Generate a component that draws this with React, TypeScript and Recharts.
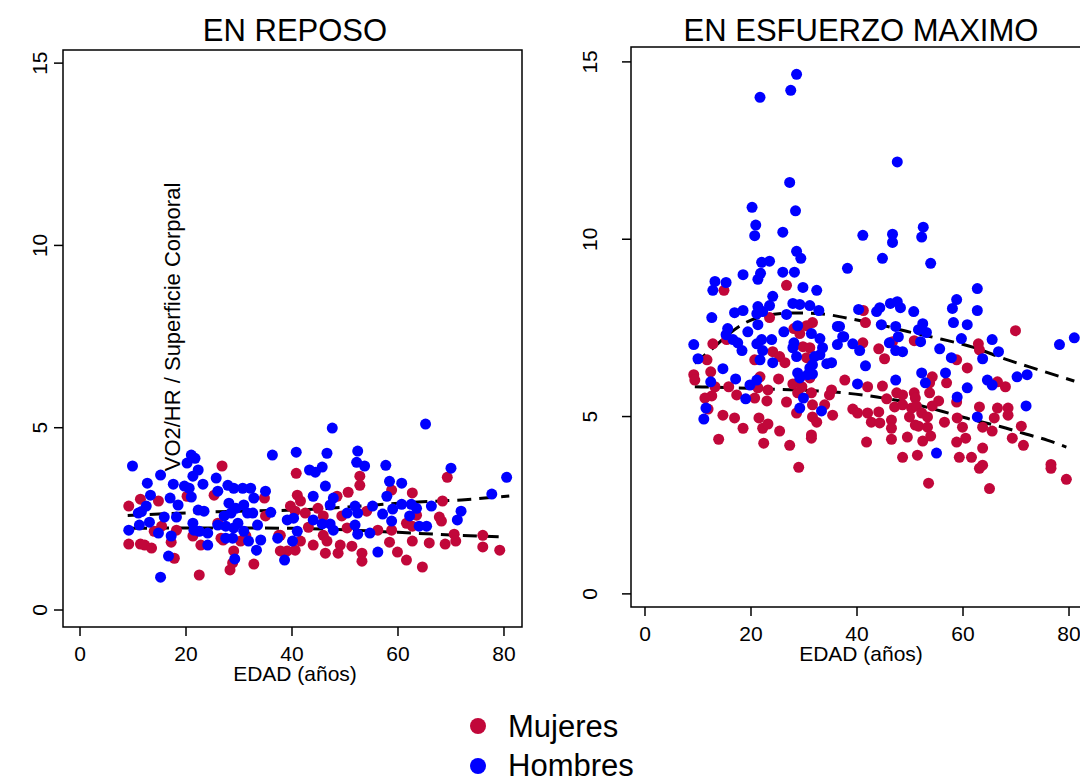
import { ComposedChart, Scatter, Line, XAxis, YAxis, ReferenceArea } from "recharts";

type Pt = [number, number];

const FONT = '"Liberation Sans", Arial, Helvetica, sans-serif';
const RED = "#C1073A";
const BLUE = "#0000FF";

const edadTicks = [0, 20, 40, 60, 80];
const valorTicks = [0, 5, 10, 15];

// EN REPOSO
const reposoHombres: Pt[] = [
  [9.9, 3.95], [21, 4.25], [21.7, 4.16], [20.2, 4.03], [15.2, 3.7], [22.3, 3.84], [21.3, 3.67], [12.7, 3.48],
  [17.6, 3.45], [25.7, 3.62], [23.2, 3.45], [19.7, 3.4], [20.6, 3.34], [13.3, 3.15], [21, 3.1], [17, 3.07],
  [18.5, 2.88], [12.5, 2.85], [11.6, 2.7], [11, 2.66], [22.3, 2.74], [23.4, 2.71], [15.9, 2.55], [18.2, 2.55],
  [13.1, 2.41], [11.2, 2.33], [9.2, 2.19], [14.8, 2.11], [17.2, 2.03], [21.3, 2.38], [21.5, 2.19], [22.5, 2.16],
  [24.1, 2.11], [24.1, 1.78], [16.7, 1.48], [15.2, 0.9], [26, 3.26], [27.9, 3.42], [29, 3.34], [30.7, 3.34],
  [32.2, 3.34], [35, 3.26], [32.8, 3.07], [28.1, 2.93], [29.4, 2.79], [30.9, 2.88], [31.6, 2.66], [32.6, 2.66],
  [28.5, 2.66], [27.2, 2.58], [26, 2.33], [27.5, 2.3], [29, 2.25], [29.8, 2.38], [27.5, 1.97], [28.8, 1.97],
  [30.9, 2.16], [31.8, 1.89], [33.5, 2.33], [34.1, 1.92], [33.3, 1.64], [29.2, 1.4], [36, 2.68], [36.3, 4.25],
  [40.8, 4.33], [39.1, 2.47], [40.3, 2.52], [37.3, 1.97], [40.1, 1.89], [38.6, 1.37], [41, 2.16],
  [47.6, 4.99], [65.2, 5.1], [46.6, 4.3], [52.4, 4.36], [52.2, 4.05], [53.7, 3.95], [57.7, 3.97], [45.7, 3.92],
  [43.3, 3.84], [44.4, 3.78], [70, 3.89], [58.4, 3.53], [60.7, 3.48], [46.3, 3.4], [44, 3.12], [47.8, 3.07],
  [57.9, 3.12], [80.5, 3.64], [77.7, 3.18], [66.3, 2.85], [71.9, 2.71], [71.2, 2.47], [47.2, 2.88], [55.2, 2.85],
  [59, 2.77], [60.7, 2.9], [62.5, 2.9], [63.5, 2.79], [51.9, 2.85], [50.4, 2.66], [52.4, 2.66], [57.1, 2.63],
  [62.2, 2.58], [58.8, 2.44], [44, 2.47], [45.7, 2.36], [47.2, 2.36], [47.8, 2.19], [51.9, 2.33], [52.4, 2.08],
  [54.7, 2.11], [64, 2.3], [65.4, 2.3], [56.2, 1.59],
];

const reposoMujeres: Pt[] = [
  [26.8, 3.95], [9.2, 2.85], [11.4, 3.04], [14.8, 2.99], [9.2, 1.81], [11.4, 1.81], [12.2, 1.78], [13.5, 1.7],
  [14, 2.16], [17.2, 1.86], [17.8, 1.42], [22.5, 0.96], [21.3, 2.03], [22.8, 1.78], [18.2, 2.19], [15.4, 2.3],
  [20.2, 3.12], [25.3, 3.15], [26, 2.38], [27, 1.92], [28.3, 1.1], [28.8, 1.29], [29, 1.62], [30.3, 1.89],
  [31.3, 2.03], [32.8, 1.26], [34.8, 3.07], [35, 2.58], [40.8, 3.75], [41, 3.15], [39.1, 1.62], [40.6, 1.64],
  [37.5, 2.05], [26.6, 1.97],
  [69.3, 3.64], [52.8, 3.67], [52.8, 3.42], [58.8, 3.29], [50.6, 3.23], [62.7, 3.21], [41.6, 2.99], [48.5, 3.12],
  [68.4, 2.99], [39.7, 2.85], [40.6, 2.71], [42.5, 2.66], [44.9, 2.79], [49.4, 2.58], [54.1, 2.71], [63.5, 2.6],
  [67.8, 2.55], [68.2, 2.44], [43.1, 2.27], [45.9, 2.58], [50.4, 2.25], [56.2, 2.19], [58.8, 2.19], [61.6, 2.38],
  [62.7, 2.3], [70.6, 2.08], [76, 2.05], [45.9, 2.05], [37.8, 2.05], [41.6, 1.89], [44, 1.78], [46.6, 1.89],
  [49.1, 1.78], [51.3, 1.75], [46.3, 1.56], [48.7, 1.56], [53.2, 1.56], [53.2, 1.34], [58.4, 1.86], [59.9, 1.59],
  [61.6, 1.37], [62.7, 1.89], [65.9, 1.84], [68.9, 1.81], [70.9, 1.89], [76, 1.73], [79.2, 1.64], [64.6, 1.18],
  [37.8, 1.62],
];

const reposoAjusteHombres: Pt[] = [
  [9, 2.59], [16, 2.64], [25, 2.69], [33, 2.72], [40, 2.74], [50, 2.82], [62, 2.95], [72, 3.02], [81, 3.13],
];
const reposoAjusteMujeres: Pt[] = [
  [10, 2.24], [20, 2.25], [30, 2.25], [40, 2.24], [50, 2.2], [60, 2.13], [70, 2.06], [79, 2.01],
];

// EN ESFUERZO MAXIMO
const maximoHombres: Pt[] = [
  [28.6, 14.65], [27.5, 14.2], [21.7, 14.0], [27.3, 11.6], [20.2, 10.9], [28.4, 10.8], [20.9, 10.4], [20.7, 10.1],
  [26, 10.2], [28.6, 9.66], [29.4, 9.46], [22, 9.35], [23.5, 9.38], [18.5, 9.0], [21.8, 9.04], [21.3, 8.87],
  [26, 9.07], [28.2, 9.07], [13.2, 8.81], [15.3, 8.78], [12.8, 8.56], [29.8, 8.64], [32.4, 8.56], [24.1, 8.39],
  [38.2, 9.18],
  [47.6, 12.18], [52.5, 10.34], [41.1, 10.11], [46.7, 10.14], [46.7, 9.91], [52.2, 10.06], [44.8, 9.46], [53.9, 9.32],
  [62.7, 8.61], [58.8, 8.3], [58, 8.05], [62.7, 7.99], [40.3, 8.02], [44.3, 8.07], [43.7, 7.96], [46.3, 8.19],
  [47.6, 8.24], [48.2, 8.07], [50.7, 7.96], [58.2, 7.65], [60.8, 7.59], [44.6, 7.59], [47.3, 7.54], [52.4, 7.62],
  [51.6, 7.45], [53.1, 7.37], [37.3, 7.25], [47.8, 7.25], [59.7, 7.2], [65.5, 7.17], [78.2, 7.03], [81, 7.22],
  [46.1, 7.08], [52, 7.11], [39.2, 7.05], [36.7, 7.54],
  [21.3, 8.1], [23.5, 8.13], [27.9, 8.19], [29.2, 8.16], [31.1, 8.13], [32.8, 7.99], [18.5, 7.99], [16.9, 7.93],
  [21.1, 7.9], [22.2, 7.96], [26.7, 7.88], [12.6, 7.79], [21.3, 7.59], [28.8, 7.56], [36.3, 7.54], [15.6, 7.48],
  [19.4, 7.39], [26.2, 7.39], [31.4, 7.34], [15.3, 7.31], [33, 7.2], [16.6, 7.17], [17.5, 7.08], [22, 7.17],
  [23.9, 7.17], [21.1, 7.05], [28.1, 7.08], [9.2, 7.03], [37.5, 7.25], [36.3, 7.03], [18.3, 6.86], [22.2, 6.86],
  [27.9, 6.94], [33.5, 6.94], [28.6, 6.69], [32, 6.69], [33, 6.74], [10, 6.63], [21.7, 6.6], [24.1, 6.52],
  [31.6, 6.46], [34.3, 6.49], [35.2, 6.52], [14.7, 6.35], [31.1, 6.37], [28.8, 6.23], [30.7, 6.18], [31.6, 6.2],
  [29.2, 6.09], [12.4, 5.98], [17.1, 6.06], [21.1, 6.03], [19.8, 5.89], [19, 5.5], [29.9, 5.52], [29.2, 5.24],
  [33.3, 5.16], [11.5, 5.24], [11.1, 4.93],
  [40.5, 6.86], [47.3, 6.86], [48.6, 6.83], [55.6, 6.91], [57.8, 6.66], [66.7, 6.83], [63.7, 6.63], [41.6, 6.43],
  [52.2, 6.23], [56.7, 6.23], [52.9, 5.95], [47.3, 6.03], [40.1, 5.92], [64.6, 6.03], [65.5, 5.89], [70.2, 6.12],
  [72.1, 6.18], [60.8, 5.81], [58.9, 5.55], [71.9, 5.3], [62.7, 4.99], [55, 3.97],
];

const maximoMujeres: Pt[] = [
  [14.9, 8.56], [26.7, 8.7], [41.2, 7.99], [41.6, 7.65], [69.9, 7.42], [62.9, 7.05], [50.8, 7.14],
  [23.5, 7.79], [31.6, 7.65], [30.5, 7.56], [28.1, 7.48], [29.2, 7.34], [12.8, 7.05], [15.4, 7.17], [29.8, 6.97],
  [31.1, 6.94], [24.1, 6.83], [25.4, 6.69], [26.4, 6.52], [20.7, 6.6], [30.5, 6.66], [11.7, 6.6], [12.4, 6.26],
  [9.2, 6.18], [9.4, 6.03], [21.7, 6.12], [25.2, 6.06], [27.9, 5.92], [29.6, 5.84], [31.1, 6.09], [37.7, 6.03],
  [13.2, 5.84], [15.8, 5.84], [21.3, 5.81], [23.2, 5.75], [17.3, 5.61], [12.6, 5.58], [11.3, 5.52], [20.7, 5.52],
  [23, 5.44], [26.7, 5.41], [28.8, 5.67], [31.4, 5.67], [34.8, 5.61], [35.2, 5.75], [31.6, 5.33], [33.9, 5.33],
  [11.9, 5.21], [28.6, 5.1], [14.7, 5.04], [16.9, 4.96], [21.5, 4.96], [31.6, 4.99], [32.4, 4.84], [35.4, 5.04],
  [18.5, 4.67], [22.2, 4.67], [23.2, 4.79], [25.4, 4.59], [31.4, 4.48], [31.4, 4.39], [13.9, 4.36], [22.4, 4.25],
  [27.3, 4.19], [29, 3.57],
  [46.7, 7.11], [41.1, 7.08], [44.1, 6.91], [45.2, 6.63], [63.1, 6.88], [58.8, 6.6], [60.8, 6.37], [42, 5.84],
  [44.8, 5.86], [54.2, 6.12], [53.7, 5.95], [56.9, 5.95], [66.5, 5.98], [68, 5.84], [45.6, 5.5], [47.5, 5.67],
  [48.6, 5.61], [50.8, 5.67], [51, 5.52], [53.7, 5.67], [55.4, 5.44], [58.8, 5.41], [39.2, 5.21], [40.1, 5.1],
  [42, 5.1], [44.1, 5.13], [47.1, 5.27], [48.6, 5.33], [50.3, 5.24], [51.2, 5.3], [52.2, 5.1], [53.3, 4.99],
  [54.2, 5.3], [42.7, 4.84], [44.3, 4.82], [46.5, 4.9], [46.5, 4.67], [49.9, 4.99], [51, 4.76], [51.6, 4.73],
  [53.3, 4.7], [56.5, 4.84], [58.9, 4.96], [59.9, 4.7], [63.1, 5.27], [65.9, 4.96], [63.7, 4.7], [65.5, 4.59],
  [66.5, 5.24], [68.5, 5.24], [68.5, 5.04], [71, 4.73], [41.8, 4.28], [46.5, 4.36], [49.5, 4.42], [52.4, 4.31],
  [53.9, 4.45], [58.8, 4.28], [60.5, 4.39], [63.7, 4.11], [69.3, 4.39], [71.4, 4.19], [48.6, 3.85], [51.4, 3.91],
  [59.3, 3.85], [61.6, 3.85], [63.1, 3.54], [63.7, 3.63], [76.6, 3.65], [76.6, 3.54], [79.5, 3.23], [53.5, 3.12],
  [65, 2.97],
];

const maximoAjusteHombres: Pt[] = [
  [9.4, 6.5], [13, 6.95], [16, 7.35], [19, 7.65], [23, 7.85], [28, 7.92], [33, 7.9], [38, 7.78], [44, 7.6],
  [50, 7.38], [56, 7.18], [62, 6.95], [68, 6.62], [74, 6.33], [81, 6.0],
];
const maximoAjusteMujeres: Pt[] = [
  [9.4, 5.84], [15, 5.82], [22, 5.78], [30, 5.74], [38, 5.66], [45, 5.52], [50, 5.38], [56, 5.15], [62, 4.9],
  [67, 4.72], [72, 4.5], [76, 4.33], [79.5, 4.14],
];

const toXY = (pts: Pt[]) => pts.map(([x, y]) => ({ x, y }));

interface PanelProps {
  left: number;
  width: number;
  plotLeft: number;
  plotRight: number;
  plotTop: number;
  plotBottom: number;
  xDomain: [number, number];
  yDomain: [number, number];
  yLabelX: number;
  mujeres: Pt[];
  hombres: Pt[];
  ajusteMujeres: Pt[];
  ajusteHombres: Pt[];
}

const H = 700;

const Panel = (p: PanelProps) => {
  const dot = (color: string) => (props: any) => <circle cx={props.cx} cy={props.cy} r={5.5} fill={color} />;
  return (
    <div style={{ position: "absolute", left: p.left, top: 0 }}>
      <ComposedChart
        width={p.width}
        height={H}
        margin={{ top: p.plotTop, right: p.width - p.plotRight, left: 0, bottom: 0 }}
      >
        <XAxis
          type="number"
          dataKey="x"
          domain={p.xDomain}
          allowDataOverflow
          ticks={edadTicks}
          interval={0}
          height={H - p.plotBottom}
          tickSize={9}
          axisLine={false}
          tickLine={{ stroke: "#000", strokeWidth: 1.5 }}
          tick={(t: any) => (
            <text x={t.x} y={t.y + 23} textAnchor="middle" fontSize={21} fontFamily={FONT} fill="#000">
              {t.payload.value}
            </text>
          )}
        />
        <YAxis
          type="number"
          dataKey="y"
          domain={p.yDomain}
          allowDataOverflow
          ticks={valorTicks}
          interval={0}
          width={p.plotLeft}
          tickSize={9}
          axisLine={false}
          tickLine={{ stroke: "#000", strokeWidth: 1.5 }}
          tick={(t: any) => (
            <text
              x={p.yLabelX}
              y={t.y}
              transform={`rotate(-90, ${p.yLabelX}, ${t.y})`}
              textAnchor="middle"
              dominantBaseline="central"
              fontSize={21}
              fontFamily={FONT}
              fill="#000"
            >
              {t.payload.value}
            </text>
          )}
        />
        <ReferenceArea
          x1={p.xDomain[0]}
          x2={p.xDomain[1]}
          y1={p.yDomain[0]}
          y2={p.yDomain[1]}
          fill="none"
          fillOpacity={0}
          stroke="#000"
          strokeWidth={1.5}
          ifOverflow="visible"
        />
        <Scatter data={toXY(p.mujeres)} fill={RED} shape={dot(RED)} isAnimationActive={false} />
        <Scatter data={toXY(p.hombres)} fill={BLUE} shape={dot(BLUE)} isAnimationActive={false} />
        <Line
          data={toXY(p.ajusteHombres)}
          dataKey="y"
          type="monotone"
          stroke="#000"
          strokeWidth={3}
          strokeDasharray="14 8"
          dot={false}
          activeDot={false}
          isAnimationActive={false}
        />
        <Line
          data={toXY(p.ajusteMujeres)}
          dataKey="y"
          type="monotone"
          stroke="#000"
          strokeWidth={3}
          strokeDasharray="14 8"
          dot={false}
          activeDot={false}
          isAnimationActive={false}
        />
      </ComposedChart>
    </div>
  );
};

const App = () => {
  return (
    <div
      style={{
        position: "absolute",
        left: 0,
        top: 0,
        width: 1080,
        height: 781,
        overflow: "hidden",
        background: "#fff",
        fontFamily: FONT,
      }}
    >
      <Panel
        left={0}
        width={532}
        plotLeft={63}
        plotRight={522}
        plotTop={50}
        plotBottom={627}
        xDomain={[-3.21, 83.4]}
        yDomain={[-0.466, 15.36]}
        yLabelX={40}
        mujeres={reposoMujeres}
        hombres={reposoHombres}
        ajusteMujeres={reposoAjusteMujeres}
        ajusteHombres={reposoAjusteHombres}
      />
      <Panel
        left={560}
        width={540}
        plotLeft={71}
        plotRight={530}
        plotTop={47}
        plotBottom={607}
        xDomain={[-2.64, 83.96]}
        yDomain={[-0.37, 15.42]}
        yLabelX={30}
        mujeres={maximoMujeres}
        hombres={maximoHombres}
        ajusteMujeres={maximoAjusteMujeres}
        ajusteHombres={maximoAjusteHombres}
      />
      <svg
        width={1080}
        height={781}
        style={{ position: "absolute", left: 0, top: 0, pointerEvents: "none" }}
        fontFamily={FONT}
      >
        <text x={295} y={41} textAnchor="middle" fontSize={31} fill="#000">EN REPOSO</text>
        <text x={861} y={41} textAnchor="middle" fontSize={31} fill="#000">EN ESFUERZO MAXIMO</text>
        <text x={295} y={681} textAnchor="middle" fontSize={21} fill="#000">EDAD (años)</text>
        <text x={861} y={661} textAnchor="middle" fontSize={21} fill="#000">EDAD (años)</text>
        <text
          x={172}
          y={327}
          transform="rotate(-90, 172, 327)"
          textAnchor="middle"
          dominantBaseline="central"
          fontSize={22}
          fill="#000"
        >
          VO2/HR / Superficie Corporal
        </text>
        <circle cx={478} cy={726} r={8} fill={RED} />
        <text x={508} y={737} fontSize={31} fill="#000">Mujeres</text>
        <circle cx={478} cy={766} r={8} fill={BLUE} />
        <text x={508} y={776} fontSize={31} fill="#000">Hombres</text>
      </svg>
    </div>
  );
};

export default App;
